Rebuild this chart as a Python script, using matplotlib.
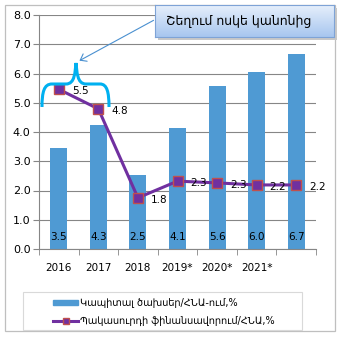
import numpy as np
import matplotlib
matplotlib.use("Agg")
import matplotlib.pyplot as plt
from matplotlib.patches import Rectangle, FancyArrowPatch
from matplotlib.path import Path
from matplotlib.patches import PathPatch
from matplotlib.colors import LinearSegmentedColormap

plt.rcParams['font.family'] = ['DejaVu Sans']

# data
years = ['2016', '2017', '2018', '2019*', '2020*', '2021*', '']
capex = [3.45, 4.25, 2.52, 4.12, 5.56, 6.05, 6.65]
capex_lbl = ['3.5', '4.3', '2.5', '4.1', '5.6', '6.0', '6.7']
deficit = [5.46, 4.79, 1.75, 2.32, 2.26, 2.19, 2.19]
deficit_lbl = ['5.5', '4.8', '1.8', '2.3', '2.3', '2.2', '2.2']
name_bar = 'Կապիտալ ծախսեր/ՀՆԱ-ում,%'
name_line = 'Պակասուրդի ֆինանսավորում/ՀՆԱ,%'
callout = 'Շեղում ոսկե կանոնից'

W, H = 341, 339
fig = plt.figure(figsize=(W / 100, H / 100), dpi=100)

def fx(px):
    return px / W

def fy(py):
    return 1 - py / H

# outer border of the chart
fig.patches.append(Rectangle((fx(5), fy(331)), fx(330), (326) / H, transform=fig.transFigure,
                             fill=False, edgecolor='#BFBFBF', lw=0.9, zorder=-1))

ax = fig.add_axes([fx(39), fy(249), fx(277), (249 - 15) / H])
ax.set_zorder(0)
x = np.arange(len(capex))
ax.bar(x, capex, width=0.43, color='#4F9AD3', zorder=2)
ax.plot(x, deficit, color='#7030A0', lw=2.2, marker='s', ms=7.5,
        mfc='#7030A0', mec='#C0504D', mew=1, zorder=3)

for i in range(len(x)):
    ax.text(x[i], 0.42, capex_lbl[i], ha='center', va='center', fontsize=7.5, zorder=4)
    ax.text(x[i] + 0.33, deficit[i] - 0.06, deficit_lbl[i], ha='left', va='center',
            fontsize=7.5, zorder=4)

ax.set_xlim(-0.5, 6.5)
ax.set_ylim(0, 8)
ax.set_yticks(np.arange(0, 8.1, 1))
ax.set_yticklabels(['%.1f' % v for v in np.arange(0, 8.1, 1)], fontsize=8)
ax.set_xticks(x)
ax.set_xticklabels(years, fontsize=7.5)
ax.set_xticks(np.arange(-0.5, 7, 1), minor=True)
ax.tick_params(axis='x', which='major', length=0, pad=10)
ax.tick_params(axis='x', which='minor', length=4, color='#868686')
ax.tick_params(axis='y', length=4, color='#868686', pad=2)
ax.grid(axis='y', color='#868686', lw=0.8, zorder=0)
ax.set_axisbelow(True)
for s in ['top', 'right']:
    ax.spines[s].set_visible(False)
for s in ['left', 'bottom']:
    ax.spines[s].set_color('#868686')

# legend frame and entries
fig.patches.append(Rectangle((fx(23), fy(330)), fx(279), 38 / H, transform=fig.transFigure,
                             fill=False, edgecolor='#D9D9D9', lw=0.8, zorder=1))
leg = fig.legend(
    [plt.Rectangle((0, 0), 1, 1, color='#4F9AD3'),
     plt.Line2D([], [], color='#7030A0', lw=2.2, marker='s', ms=5, mfc='#7030A0', mec='#C0504D')],
    [name_bar, name_line], loc='upper left', bbox_to_anchor=(fx(50), fy(295)),
    bbox_transform=fig.transFigure, fontsize=7, frameon=False,
    borderpad=0.3, labelspacing=0.85, handlelength=2.6, handleheight=0.5, handletextpad=0.15,
    borderaxespad=0)

# curly brace (pixel coords -> figure fraction)
brace = [(42, 107), (42, 92), (44, 84), (52, 84), (66, 84), (75, 84), (75, 72), (76, 63),
         (77, 72), (77, 84), (86, 84), (100, 84), (107, 84), (109, 92), (109, 107)]
codes = [Path.MOVETO, Path.CURVE4, Path.CURVE4, Path.CURVE4, Path.LINETO, Path.CURVE4, Path.CURVE4,
         Path.CURVE4, Path.CURVE4, Path.CURVE4, Path.CURVE4, Path.LINETO, Path.CURVE4, Path.CURVE4,
         Path.CURVE4]
pts = [(fx(a), fy(b)) for a, b in brace]
fig.patches.append(PathPatch(Path(pts, codes), transform=fig.transFigure, fill=False,
                             edgecolor='#00B0F0', lw=2.2, zorder=5))

# arrow from callout to brace
fig.patches.append(FancyArrowPatch((fx(156), fy(19)), (fx(77), fy(62)), transform=fig.transFigure,
                                   arrowstyle='->,head_length=4,head_width=3', color='#4A90D0',
                                   lw=0.8, mutation_scale=1, zorder=5))

# callout box with gradient and shadow
sax = fig.add_axes([fx(158), fy(40), fx(179), 32 / H])
sax.set_zorder(6)
sax.set_facecolor('#C8C8C8')
sax.set_xticks([])
sax.set_yticks([])
for s in sax.spines.values():
    s.set_visible(False)
bax = fig.add_axes([fx(155), fy(37), fx(179), 32 / H])
bax.set_zorder(7)
cmap = LinearSegmentedColormap.from_list('g', ['#A7C6EF', '#E6EFFB'])
bax.imshow(np.linspace(0, 1, 50).reshape(-1, 1), aspect='auto', cmap=cmap,
           extent=[0, 1, 0, 1], origin='lower')
bax.set_xticks([])
bax.set_yticks([])
for s in bax.spines.values():
    s.set_color('#7EA3D6')
    s.set_linewidth(0.8)
bax.text(0.06, 0.5, callout, ha='left', va='center', fontsize=9, transform=bax.transAxes)

fig.savefig('out.png', dpi=100)
